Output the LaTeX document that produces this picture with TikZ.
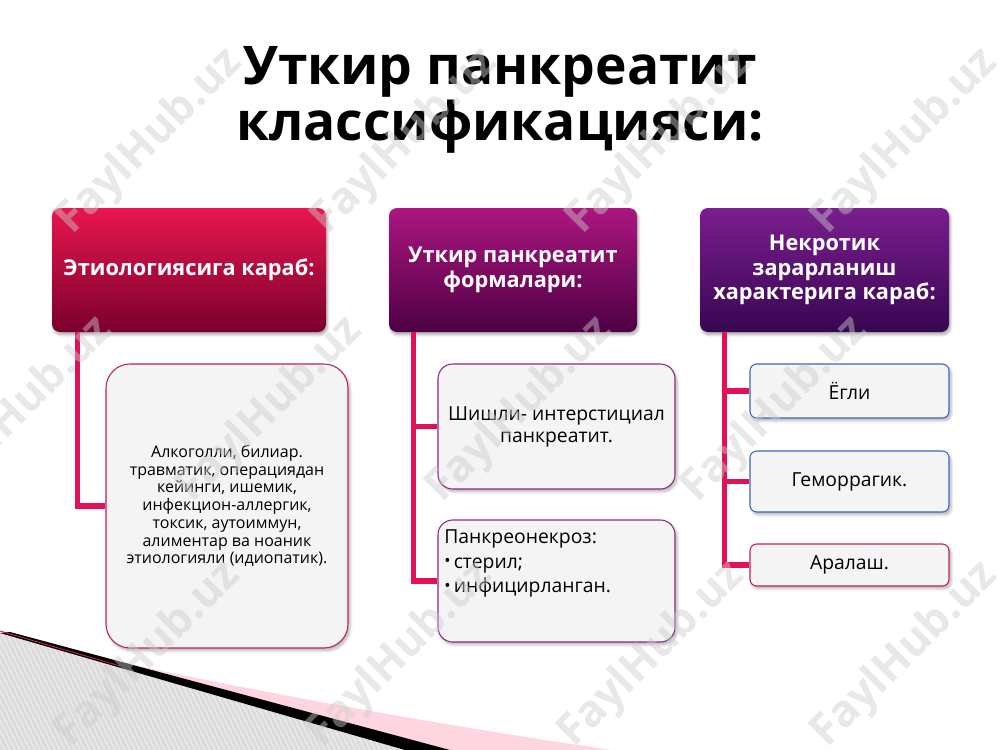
\documentclass[tikz,border=0pt]{standalone}
\usepackage{fontspec}
\setmainfont{Open Sans}
\usetikzlibrary{shadows.blur}
\definecolor{crim}{RGB}{226,16,88}
\definecolor{hOneTop}{RGB}{232,22,78}
\definecolor{hOneBot}{RGB}{122,0,46}
\definecolor{hTwoTop}{RGB}{172,22,128}
\definecolor{hTwoBot}{RGB}{78,0,68}
\definecolor{hThrTop}{RGB}{122,30,142}
\definecolor{hThrBot}{RGB}{56,6,82}
\definecolor{bxfill}{RGB}{244,244,244}
\definecolor{bdRed}{RGB}{196,30,84}
\definecolor{bdPur}{RGB}{140,40,130}
\definecolor{bdBlue}{RGB}{60,100,190}
\definecolor{hatchbg}{RGB}{220,220,220}
\definecolor{hatchln}{RGB}{236,236,236}
\definecolor{wedgepink}{RGB}{255,214,224}
\def\pu{0.75pt}
\newcommand{\mybul}{{\raisebox{0.08em}{\fontsize{12.5}{12.5}\selectfont•}}\,}
\tikzset{
  header/.style={rounded corners=6pt, inner sep=4pt, text=white, align=center,
    font=\bfseries\fontsize{16.3}{18.5}\selectfont,
    blur shadow={shadow xshift=1pt, shadow yshift=-2pt, shadow blur steps=6, shadow opacity=35}},
  childbox/.style={fill=bxfill, line width=0.8pt, align=center,
    blur shadow={shadow xshift=1.5pt, shadow yshift=-2pt, shadow blur steps=6, shadow opacity=30}},
  conn/.style={draw=crim, line width=4pt},
  wmark/.style={rotate=45, text=gray!40, opacity=0.45, font=\bfseries\fontsize{33}{33}\selectfont}
}
\begin{document}
\begin{tikzpicture}[x=0.75pt, y=-0.75pt]
\useasboundingbox (0,0) rectangle (1000,750);
% bottom-left decoration
\fill[hatchbg] (0,633) -- (405,750) -- (0,750) -- cycle;
\begin{scope}
\clip (0,633) -- (405,750) -- (0,750) -- cycle;
\foreach \i in {-300,-295,...,420} \draw[hatchln, line width=0.9pt] (\i,620) -- ++(70,140);
\end{scope}
\fill[wedgepink] (90,656) .. controls (250,690) and (420,722) .. (612,750) -- (450,750) -- cycle;
\fill[black] (10,632) -- (450,750) -- (405,750) -- (0,633) -- cycle;
\draw[bdRed, line width=0.7pt] (0,631) -- (120,666);
% title
\node[font=\bfseries\fontsize{40}{42}\selectfont, align=center] (title) at (500,100)
  {Уткир панкреатит\\классификацияси:};
% headers
\node[header, top color=hOneTop, bottom color=hOneBot, minimum width=274*\pu, minimum height=124*\pu]
  (h1) at (189,270) {Этиологиясига караб:};
\node[header, top color=hTwoTop, bottom color=hTwoBot, minimum width=248*\pu, minimum height=124*\pu]
  (h2) at (513,270) {Уткир панкреатит\\формалари:};
\node[header, top color=hThrTop, bottom color=hThrBot, minimum width=249*\pu, minimum height=124*\pu]
  (h3) at (824.5,270) {Некротик\\зарарланиш\\характерига караб:};
% children
\node[childbox, draw=bdRed, rounded corners=18pt, minimum width=242*\pu, minimum height=284*\pu,
  font=\fontsize{12}{13.3}\selectfont] (c1) at (227,506)
  {Алкоголли, билиар.\\травматик, операциядан\\кейинги, ишемик,\\инфекцион-аллергик,\\токсик, аутоиммун,\\алиментар ва ноаник\\этиологияли (идиопатик).};
\node[childbox, draw=bdPur, rounded corners=11pt, minimum width=237*\pu, minimum height=125*\pu,
  font=\fontsize{14.5}{16.5}\selectfont] (c2a) at (556.5,426.5)
  {Шишли- интерстициал\\панкреатит.};
\node[childbox, draw=bdPur, rounded corners=11pt, minimum width=237*\pu, minimum height=122*\pu] (c2b) at (556.5,581) {};
\node[anchor=north west, inner sep=0pt, align=left, font=\fontsize{14.5}{18.7}\selectfont] (c2bt)
  at (444,529) {Панкреонекроз:\\\mybul стерил;\\\mybul инфицирланган.};
\node[childbox, draw=bdBlue, rounded corners=5pt, minimum width=199*\pu, minimum height=54*\pu,
  font=\fontsize{14.5}{16.5}\selectfont] (c3a) at (849.5,391) {Ёгли};
\node[childbox, draw=bdBlue, rounded corners=5pt, minimum width=199*\pu, minimum height=61*\pu,
  font=\fontsize{14.5}{16.5}\selectfont] (c3b) at (849.5,481.5) {Геморрагик.};
\node[childbox, draw=bdRed, rounded corners=5pt, minimum width=199*\pu, minimum height=42*\pu,
  font=\fontsize{14.5}{16.5}\selectfont] (c3c) at (849.5,565) {Аралаш.};
% connectors
\draw[conn] (h1.south west) ++(26,0) |- (c1.west);
\draw[conn] (h2.south west) ++(25,0) coordinate (v2) |- (c2b.west);
\draw[conn] (v2 |- c2a.west) -- (c2a.west);
\draw[conn] (h3.south west) ++(25,0) coordinate (v3) |- (c3c.west);
\draw[conn] (v3 |- c3a.west) -- (c3a.west);
\draw[conn] (v3 |- c3b.west) -- (c3b.west);
% watermarks
\foreach \x/\y [count=\k] in {150/142,405/142,660/142,905/142,20/410,270/410,520/410,775/410,148/655,400/655,652/655,905/655}
  \node[wmark] (wm\k) at (\x,\y) {FaylHub.uz};
\end{tikzpicture}
\end{document}
